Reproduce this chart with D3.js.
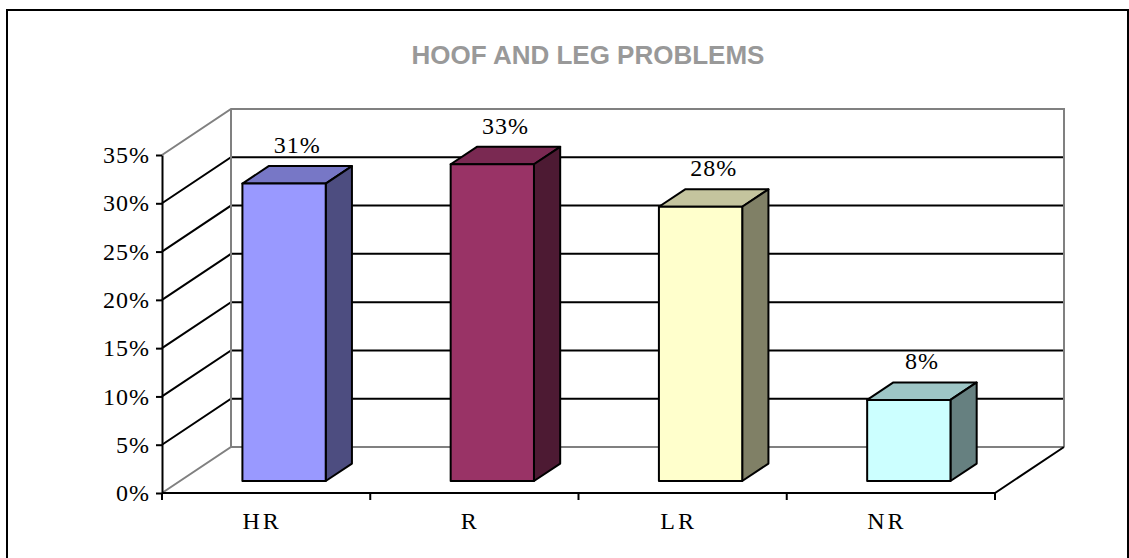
<!DOCTYPE html>
<html>
<head>
<meta charset="utf-8">
<script src="https://cdn.jsdelivr.net/npm/d3@7"></script>
<style>
  body { margin: 0; background: #fff; }
  svg { display: block; }
</style>
</head>
<body>
<div id="chart"></div>
<script>
// data
const categories = ['HR', 'R', 'LR', 'NR'];
const values = [30.8, 32.8, 28.4, 8.4];
const yTicks = [0, 5, 10, 15, 20, 25, 30, 35];
const frontColors = ['#9999ff', '#993366', '#ffffcc', '#ccffff'];
const topColors = ['#7777c6', '#7a2952', '#c4c49e', '#9ec6c6'];
const sideColors = ['#4d4d80', '#4d1a33', '#808066', '#668080'];

const width = 1129, height = 558;
const plot = {left: 162, right: 995, bottom: 493, top: 155};
const depth = {dx: 69, dy: -46};
const barFront = 0.26, barBack = 0.64;

const svg = d3.select('#chart')
    .append('svg')
    .attr('width', width)
    .attr('height', height);

svg.append('rect')
    .attr('x', 7).attr('y', 10)
    .attr('width', 1121).attr('height', 600)
    .attr('fill', '#fff')
    .attr('stroke', '#000')
    .attr('stroke-width', 2);

svg.append('text')
    .attr('x', 588).attr('y', 64)
    .attr('text-anchor', 'middle')
    .attr('font-family', 'Arial, "Liberation Sans", sans-serif')
    .attr('font-weight', 'bold')
    .attr('font-size', 26)
    .attr('fill', '#999999')
    .text('HOOF AND LEG PROBLEMS');

const x = d3.scaleBand()
    .domain(categories)
    .range([plot.left, plot.right])
    .paddingInner(0.6)
    .paddingOuter(0.3);

const y = d3.scaleLinear()
    .domain([0, 35])
    .range([plot.bottom, plot.top]);

// project a front-plane point back by depth fraction d
const P = (px, v, d) => [px + depth.dx * d, y(v) + depth.dy * d];
const line = d3.line();

const walls = svg.append('g').attr('fill', 'none').attr('stroke-width', 2);

// gridlines on side and back walls
yTicks.filter(t => t > 0 && t < 35).forEach(t => {
  walls.append('path')
      .attr('d', line([P(plot.left, t, 0), P(plot.left, t, 1), P(plot.right, t, 1)]))
      .attr('stroke', '#000');
});

// wall edges (grey)
walls.append('path')
    .attr('d', line([P(plot.left, 0, 0), P(plot.left, 0, 1), P(plot.right, 0, 1)]))
    .attr('stroke', '#808080');
walls.append('path')
    .attr('d', line([P(plot.left, 35, 0), P(plot.left, 35, 1), P(plot.right, 35, 1), P(plot.right, 0, 1)]))
    .attr('stroke', '#808080');
walls.append('path')
    .attr('d', line([P(plot.left, 0, 1), P(plot.left, 35, 1)]))
    .attr('stroke', '#808080');

// floor front and right edges
walls.append('path')
    .attr('d', line([P(plot.left, 0, 0), P(plot.right, 0, 0), P(plot.right, 0, 1)]))
    .attr('stroke', '#000');

// bars
const bars = svg.append('g')
    .selectAll('g')
    .data(categories.map((c, i) => ({c, v: values[i], i})))
    .join('g')
    .attr('stroke', '#000')
    .attr('stroke-width', 2)
    .attr('stroke-linejoin', 'round');

bars.append('path')
    .attr('fill', d => topColors[d.i])
    .attr('d', d => {
      const x0 = x(d.c), x1 = x0 + x.bandwidth();
      return line([P(x0, d.v, barFront), P(x1, d.v, barFront), P(x1, d.v, barBack), P(x0, d.v, barBack)]) + 'Z';
    });

bars.append('path')
    .attr('fill', d => sideColors[d.i])
    .attr('d', d => {
      const x1 = x(d.c) + x.bandwidth();
      return line([P(x1, d.v, barFront), P(x1, d.v, barBack), P(x1, 0, barBack), P(x1, 0, barFront)]) + 'Z';
    });

bars.append('path')
    .attr('fill', d => frontColors[d.i])
    .attr('d', d => {
      const x0 = x(d.c), x1 = x0 + x.bandwidth();
      return line([P(x0, d.v, barFront), P(x1, d.v, barFront), P(x1, 0, barFront), P(x0, 0, barFront)]) + 'Z';
    });

// value labels
bars.append('text')
    .attr('stroke', 'none')
    .attr('fill', '#000')
    .attr('font-family', '"Liberation Serif", "Times New Roman", serif')
    .attr('font-size', 24)
    .attr('letter-spacing', 1)
    .attr('text-anchor', 'middle')
    .attr('x', d => P(x(d.c) + x.bandwidth() / 2, d.v, (barFront + barBack) / 2)[0])
    .attr('y', d => P(0, d.v, (barFront + barBack) / 2)[1] - 22)
    .text(d => Math.round(d.v) + '%');

// y axis
const yAxis = svg.append('g')
    .attr('transform', `translate(${plot.left},0)`)
    .call(d3.axisLeft(y)
        .tickValues(yTicks)
        .tickSize(6)
        .tickSizeOuter(0)
        .tickPadding(6)
        .tickFormat(d => d + '%'));
yAxis.select('.domain').attr('stroke', '#000').attr('stroke-width', 2);
yAxis.selectAll('.tick line').attr('stroke', '#000').attr('stroke-width', 2);
yAxis.selectAll('.tick text')
    .attr('fill', '#000')
    .attr('font-family', '"Liberation Serif", "Times New Roman", serif')
    .attr('font-size', 24)
    .attr('letter-spacing', 1);

// x axis: ticks between categories, labels under the middle
const step = x.step();
const bounds = d3.range(categories.length + 1).map(i => plot.left + i * step);
svg.append('g')
    .selectAll('line')
    .data(bounds)
    .join('line')
    .attr('x1', d => d).attr('x2', d => d)
    .attr('y1', plot.bottom).attr('y2', plot.bottom + 7)
    .attr('stroke', '#000')
    .attr('stroke-width', 2);

svg.append('g')
    .selectAll('text')
    .data(categories)
    .join('text')
    .attr('x', d => x(d) + x.bandwidth() / 2 - 4)
    .attr('y', 529)
    .attr('text-anchor', 'middle')
    .attr('font-family', '"Liberation Serif", "Times New Roman", serif')
    .attr('font-size', 24)
    .attr('letter-spacing', 3)
    .attr('fill', '#000')
    .text(d => d);
</script>
</body>
</html>
